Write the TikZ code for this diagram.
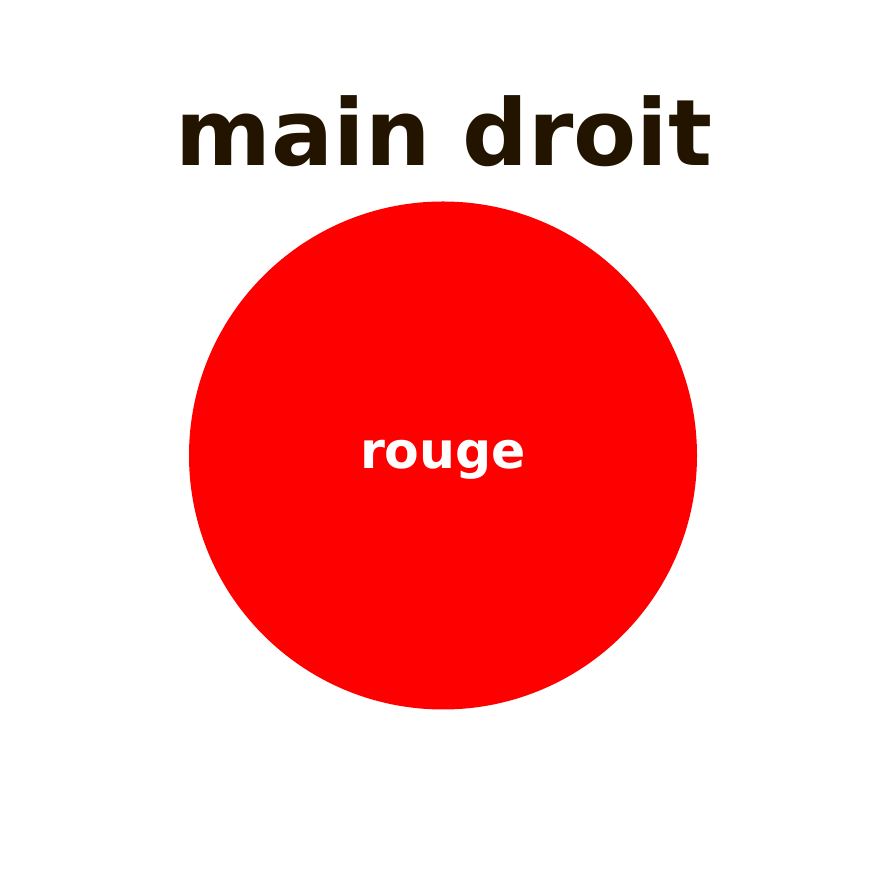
\documentclass[tikz,border=0pt]{standalone}
\usepackage{fontspec}
\setmainfont{DejaVu Sans}
\definecolor{titlecol}{HTML}{231400}
\definecolor{discred}{HTML}{FF0000}
\begin{document}
\begin{tikzpicture}[x=1pt,y=1pt,
  titlestyle/.style={text=titlecol,font=\fontsize{92}{100}\selectfont\bfseries,inner sep=0pt,anchor=base},
  discstyle/.style={circle,fill=discred,draw=none,minimum size=508pt,inner sep=0pt},
  labelstyle/.style={text=white,font=\fontsize{50.5}{54}\selectfont\bfseries,inner sep=0pt,anchor=base}]
\useasboundingbox (0,0) rectangle (886,886);
\node[titlestyle] (title) at (444,886-166) {main droit};
\node[discstyle] (disc) at (443,886-455.5) {};
\node[labelstyle] (label) at (443,886-469) {rouge};
\end{tikzpicture}
\end{document}
